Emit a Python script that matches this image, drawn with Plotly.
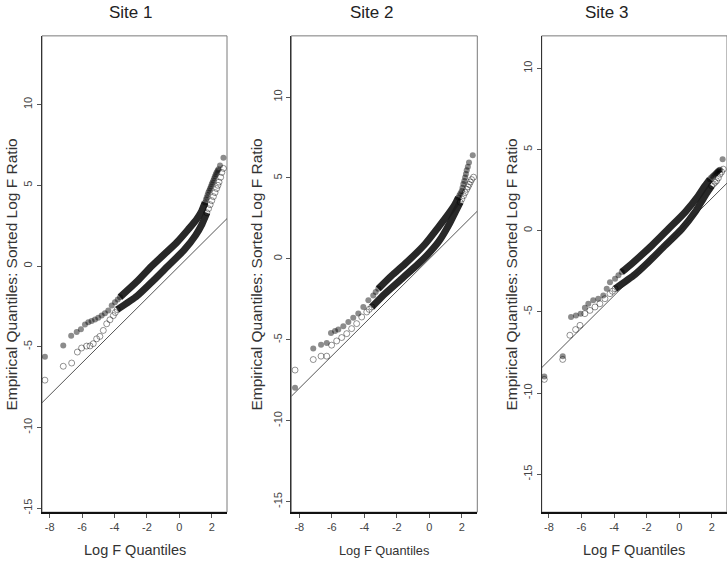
import plotly.graph_objects as go

# ---------------- data ----------------
site_names = ["Site 1", "Site 2", "Site 3"]
x_tick_vals = [-8, -6, -4, -2, 0, 2]
y_tick_vals = [-15, -10, -5, 0, 5, 10]
x_title = "Log F Quantiles"
y_title = "Empirical Quantiles: Sorted Log F Ratio"
ab_intercept = 0.0
ab_slope = 1.0

# Site 1 : filled circles (upper curve)
s1_fill_lo_x = [-8.29, -7.16, -6.67, -6.33, -6.07, -5.82, -5.61, -5.41, -5.20, -5.00, -4.79, -4.59, -4.38, -4.17, -3.97, -3.80, -3.66]
s1_fill_lo_y = [-5.62, -4.92, -4.32, -4.09, -3.91, -3.62, -3.48, -3.40, -3.31, -3.21, -3.07, -2.92, -2.76, -2.45, -2.24, -2.08, -1.93]
s1_fill_band_x = [-3.66, -2.60, -1.70, -0.16, 0.56, 1.07, 1.38, 1.59]
s1_fill_band_y = [-1.93, -0.95, 0.00, 1.46, 2.28, 2.90, 3.41, 3.93]
s1_fill_hi_x = [1.59, 1.64, 1.69, 1.74, 1.79, 1.85, 1.90, 1.95, 2.00, 2.05, 2.10, 2.15, 2.20, 2.25, 2.30, 2.36, 2.41, 2.51, 2.72]
s1_fill_hi_y = [3.93, 4.10, 4.25, 4.40, 4.55, 4.68, 4.80, 4.93, 5.06, 5.18, 5.30, 5.44, 5.57, 5.68, 5.80, 5.90, 5.99, 6.23, 6.71]
# Site 1 : open circles (lower curve)
s1_open_lo_x = [-8.29, -7.16, -6.64, -6.29, -6.03, -5.72, -5.51, -5.31, -5.10, -4.90, -4.69, -4.48, -4.28, -4.07, -3.95, -3.83]
s1_open_lo_y = [-7.07, -6.21, -6.01, -5.33, -5.08, -4.96, -4.95, -4.81, -4.51, -4.36, -3.99, -3.58, -3.33, -3.07, -2.88, -2.70]
s1_open_band_x = [-3.83, -2.60, -1.60, -0.70, 0.30, 1.00, 1.40, 1.70]
s1_open_band_y = [-2.70, -1.85, -0.90, 0.00, 1.00, 1.90, 2.60, 3.30]
s1_open_hi_x = [1.70, 1.80, 1.90, 2.00, 2.10, 2.20, 2.30, 2.38, 2.45, 2.55, 2.62, 2.72]
s1_open_hi_y = [3.30, 3.55, 3.80, 4.05, 4.30, 4.55, 4.80, 5.00, 5.20, 5.50, 5.80, 6.05]

# Site 2 : filled circles
s2_fill_lo_x = [-8.26, -7.14, -6.66, -6.31, -6.05, -5.80, -5.60, -5.29, -4.98, -4.68, -4.37, -4.06, -3.75, -3.45, -3.30, -3.14]
s2_fill_lo_y = [-7.96, -5.54, -5.31, -5.19, -4.58, -4.45, -4.37, -4.16, -3.90, -3.63, -3.38, -2.97, -2.56, -2.26, -2.05, -1.85]
s2_fill_band_x = [-3.14, -2.31, -1.50, -0.26, 0.55, 1.17, 1.58, 1.79]
s2_fill_band_y = [-1.85, -1.03, -0.31, 0.92, 1.95, 2.77, 3.38, 3.79]
s2_fill_hi_x = [1.79, 1.85, 1.92, 1.99, 2.04, 2.09, 2.15, 2.20, 2.25, 2.30, 2.37, 2.44, 2.67]
s2_fill_hi_y = [3.79, 3.93, 4.06, 4.20, 4.40, 4.62, 4.82, 5.03, 5.25, 5.48, 5.70, 5.95, 6.40]
# Site 2 : open circles
s2_open_lo_x = [-8.26, -7.14, -6.66, -6.31, -6.01, -5.70, -5.39, -5.08, -4.78, -4.47, -4.16, -3.85, -3.70, -3.54]
s2_open_lo_y = [-6.87, -6.22, -6.01, -6.01, -5.33, -5.07, -4.86, -4.62, -4.31, -4.00, -3.59, -3.28, -3.12, -2.97]
s2_open_band_x = [-3.54, -2.73, -1.70, -0.68, -0.06, 0.60, 1.20, 1.60, 1.90]
s2_open_band_y = [-2.97, -2.15, -1.23, -0.31, 0.31, 1.10, 2.10, 2.90, 3.50]
s2_open_hi_x = [1.90, 2.00, 2.10, 2.20, 2.30, 2.38, 2.45, 2.52, 2.60, 2.72]
s2_open_hi_y = [3.50, 3.70, 3.90, 4.10, 4.30, 4.45, 4.60, 4.75, 4.90, 5.05]

# Site 3 : filled circles
s3_fill_lo_x = [-8.28, -7.15, -6.64, -6.34, -6.05, -5.79, -5.58, -5.28, -4.97, -4.66, -4.45, -4.25, -3.94, -3.73, -3.53]
s3_fill_lo_y = [-8.99, -7.73, -5.31, -5.23, -5.11, -4.74, -4.50, -4.29, -4.19, -3.99, -3.58, -3.17, -2.96, -2.75, -2.55]
s3_fill_band_x = [-3.53, -2.92, -1.69, -0.67, 0.35, 1.17, 1.58, 1.88]
s3_fill_band_y = [-2.55, -2.04, -0.92, 0.10, 1.13, 2.15, 2.76, 3.17]
s3_fill_hi_x = [1.88, 1.96, 2.05, 2.12, 2.19, 2.25, 2.30, 2.35, 2.39, 2.45, 2.50, 2.66]
s3_fill_hi_y = [3.17, 3.27, 3.35, 3.42, 3.48, 3.53, 3.58, 3.63, 3.68, 3.72, 3.75, 4.40]
# Site 3 : open circles
s3_open_lo_x = [-8.28, -7.15, -6.71, -6.36, -6.09, -5.79, -5.48, -5.17, -4.87, -4.56, -4.25, -4.10, -3.94]
s3_open_lo_y = [-9.16, -7.93, -6.44, -6.09, -5.83, -5.11, -4.91, -4.70, -4.50, -4.19, -3.88, -3.73, -3.58]
s3_open_band_x = [-3.94, -2.72, -2.00, -0.88, 0.15, 0.96, 1.58, 1.99]
s3_open_band_y = [-3.58, -2.70, -2.04, -0.92, 0.10, 1.13, 2.15, 2.76]
s3_open_hi_x = [1.99, 2.10, 2.20, 2.29, 2.40, 2.50, 2.60, 2.70]
s3_open_hi_y = [2.76, 2.88, 2.98, 3.07, 3.25, 3.48, 3.62, 3.79]

panels = [
    dict(fill=[(s1_fill_lo_x, s1_fill_lo_y), (s1_fill_hi_x, s1_fill_hi_y)], fill_band=(s1_fill_band_x, s1_fill_band_y),
         open=[(s1_open_lo_x, s1_open_lo_y), (s1_open_hi_x, s1_open_hi_y)], open_band=(s1_open_band_x, s1_open_band_y)),
    dict(fill=[(s2_fill_lo_x, s2_fill_lo_y), (s2_fill_hi_x, s2_fill_hi_y)], fill_band=(s2_fill_band_x, s2_fill_band_y),
         open=[(s2_open_lo_x, s2_open_lo_y), (s2_open_hi_x, s2_open_hi_y)], open_band=(s2_open_band_x, s2_open_band_y)),
    dict(fill=[(s3_fill_lo_x, s3_fill_lo_y), (s3_fill_hi_x, s3_fill_hi_y)], fill_band=(s3_fill_band_x, s3_fill_band_y),
         open=[(s3_open_lo_x, s3_open_lo_y), (s3_open_hi_x, s3_open_hi_y)], open_band=(s3_open_band_x, s3_open_band_y)),
]

# ---------------- layout geometry ----------------
W, H = 727, 563
x_px = [(42.0, 227.0), (291.3, 477.3), (541.7, 727.0)]
y_px = (36.0, 514.0)   # top, bottom
x_ranges = [[-8.47, 2.94], [-8.49, 2.95], [-8.44, 2.93]]
y_ranges = [[-15.25, 14.26], [-15.65, 13.78], [-17.34, 12.0]]
title_cx = [130, 371, 606]
ytitle_cx = [12, 257, 512]
xtitle_size = [14.5, 12.8, 14.5]

FONT = "Liberation Sans, Arial, Helvetica, sans-serif"
FILL_COL = "rgba(0,0,0,0.45)"
OPEN_COL = "rgba(0,0,0,0.42)"
BAND_COL = "rgba(28,28,28,0.95)"

fig = go.Figure()
layout = dict(width=W, height=H, margin=dict(l=0, r=0, t=0, b=0),
              paper_bgcolor="white", plot_bgcolor="white", showlegend=False,
              font=dict(family=FONT, color="#333333"))
annotations = []
shapes = []

for i, p in enumerate(panels):
    sfx = "" if i == 0 else str(i + 1)
    xa, ya = "x" + sfx, "y" + sfx
    # reference line y = a + b x spanning the axis range
    xr = x_ranges[i]
    fig.add_trace(go.Scatter(x=xr, y=[ab_intercept + ab_slope * v for v in xr], mode="lines",
                             line=dict(color="#555555", width=1), xaxis=xa, yaxis=ya, hoverinfo="skip"))
    # dense bands
    for bx, by in (p["open_band"], p["fill_band"]):
        fig.add_trace(go.Scatter(x=bx, y=by, mode="lines",
                                 line=dict(color=BAND_COL, width=7, shape="spline", smoothing=0.6),
                                 xaxis=xa, yaxis=ya))
    # open circles
    for ox, oy in p["open"]:
        fig.add_trace(go.Scatter(x=ox, y=oy, mode="markers",
                                 marker=dict(symbol="circle-open", size=6, color=OPEN_COL, line=dict(width=1)),
                                 xaxis=xa, yaxis=ya))
    # filled circles
    for fx, fy in p["fill"]:
        fig.add_trace(go.Scatter(x=fx, y=fy, mode="markers",
                                 marker=dict(symbol="circle", size=6, color=FILL_COL, line=dict(width=0)),
                                 xaxis=xa, yaxis=ya))

    dom_x = [x_px[i][0] / W, min(1.0, x_px[i][1] / W)]
    dom_y = [(H - y_px[1]) / H, (H - y_px[0]) / H]
    layout["xaxis" + sfx] = dict(domain=dom_x, range=x_ranges[i], anchor=ya, showgrid=False, zeroline=False,
                                 showline=True, linecolor="#111111", linewidth=1.6,
                                 ticks="outside", ticklen=4, tickwidth=1, tickcolor="#555555",
                                 tickvals=x_tick_vals, ticktext=[str(v) for v in x_tick_vals],
                                 tickfont=dict(size=11, color="#444444", family=FONT))
    layout["yaxis" + sfx] = dict(domain=dom_y, range=y_ranges[i], anchor=xa, showgrid=False, zeroline=False,
                                 showline=True, linecolor="#333333", linewidth=1.3,
                                 ticks="outside", ticklen=4, tickwidth=1, tickcolor="#555555",
                                 tickvals=y_tick_vals, ticktext=[str(v) for v in y_tick_vals], tickangle=-90,
                                 tickfont=dict(size=11, color="#444444", family=FONT))
    # gray frame (top / right)
    shapes.append(dict(type="rect", xref=xa + " domain", yref=ya + " domain", x0=0, x1=1, y0=0, y1=1,
                       line=dict(color="#7a7a7a", width=1), layer="below"))
    # texts
    annotations.append(dict(text=site_names[i], x=title_cx[i] / W, y=1 - 13 / H, xref="paper", yref="paper",
                            xanchor="center", yanchor="middle", showarrow=False,
                            font=dict(size=17, color="#222222", family=FONT)))
    annotations.append(dict(text=x_title, x=(x_px[i][0] + x_px[i][1]) / 2 / W, y=(H - 552) / H,
                            xref="paper", yref="paper", xanchor="center", yanchor="middle", showarrow=False,
                            font=dict(size=xtitle_size[i], color="#333333", family=FONT)))
    annotations.append(dict(text=y_title, x=ytitle_cx[i] / W, y=(H - 275.5) / H, textangle=-90,
                            xref="paper", yref="paper", xanchor="center", yanchor="middle", showarrow=False,
                            font=dict(size=15.5, color="#333333", family=FONT)))

layout["annotations"] = annotations
layout["shapes"] = shapes
fig.update_layout(**layout)
fig.write_html("out.html", config={"displayModeBar": False},
               post_script="document.body.style.margin='0';document.body.style.padding='0';"
                           "document.documentElement.style.overflow='hidden';")
